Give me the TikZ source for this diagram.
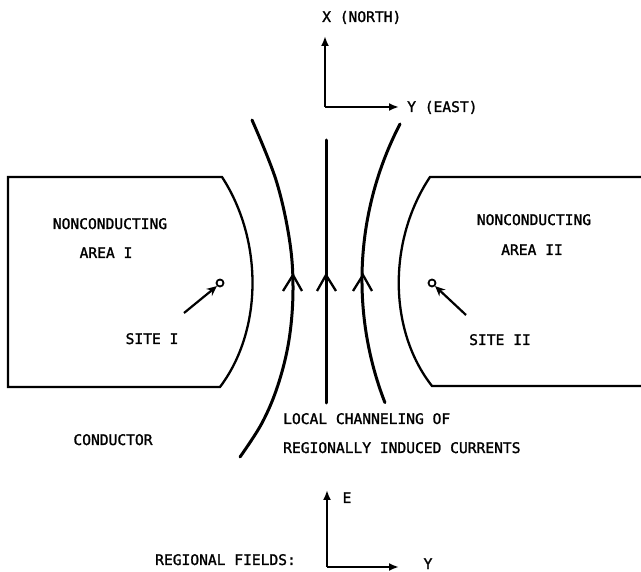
\documentclass[tikz,border=0pt]{standalone}
\usepackage{fontspec}
\newfontfamily\lbl{DejaVu Sans Mono}[FakeBold=1.5]
\usetikzlibrary{arrows.meta}
\tikzset{
  lab/.style={font=\lbl\fontsize{14.6}{16}\selectfont, inner sep=0pt, anchor=base},
  labw/.style={lab, anchor=base west},
  boxline/.style={line width=2.3pt, line join=miter},
  flow/.style={line width=3pt, line cap=round},
  chev/.style={line width=2.3pt, line join=miter},
  axis/.style={line width=2.4pt, -{Latex[length=10pt,width=8pt]}},
  sitearrow/.style={line width=2.2pt, -{Stealth[length=10pt,width=9pt]}},
  sitemark/.style={draw, circle, line width=1.8pt, minimum size=7pt, inner sep=0pt}
}
\begin{document}
\begin{tikzpicture}[x=1pt,y=-1pt]
\useasboundingbox (0,0) rectangle (641,572);
% top axis
\coordinate (o1) at (325,107);
\coordinate (n1) at (325,36);
\coordinate (e1) at (399,107);
\draw[axis] (o1) -- (n1);
\draw[axis] (o1) -- (e1);
\node[labw] (xn) at (322,22) {X (NORTH)};
\node[labw] (ye) at (407,112) {Y (EAST)};
% left nonconducting area
\draw[boxline] (222,177) -- (8,177) -- (8,387) -- (220,387)
  .. controls (263,330) and (263,240) .. cycle;
% right nonconducting area
\draw[boxline] (641,177) -- (430,177)
  .. controls (388,240) and (388,330) .. (432,386) -- (641,386);
% current lines
\draw[flow] plot[smooth, tension=0.6] coordinates {(252,120) (276,180) (289.5,240) (293,290) (289,340) (278,385) (262,423) (240,457)};
\draw[flow] (326,140) -- (326,403);
\draw[flow] (400,124) arc[start angle=207.4, end angle=158.8, radius=339];
% chevrons
\draw[chev] (283,291) -- (293,275) -- (302,291);
\draw[chev] (317,291) -- (326,275) -- (336,291);
\draw[chev] (353,291) -- (363,275) -- (372,291);
% labels left
\node[lab] (nc1) at (110,229) {NONCONDUCTING};
\node[lab] (ar1) at (106,258) {AREA I};
\node[sitemark] (s1) at (220,283) {};
\coordinate (s1t) at (184,313);
\draw[sitearrow] (s1t) -- (s1.south west);
\node[lab] (st1) at (152,344) {SITE I};
% labels right
\node[lab] (nc2) at (534,225) {NONCONDUCTING};
\node[lab] (ar2) at (532,255) {AREA II};
\node[sitemark] (s2) at (432,283) {};
\coordinate (s2t) at (466,315);
\draw[sitearrow] (s2t) -- (s2.south east);
\node[lab] (st2) at (500,345) {SITE II};
% bottom texts
\node[lab] (cond) at (113,445) {CONDUCTOR};
\node[labw] (loc) at (283,424) {LOCAL CHANNELING OF};
\node[labw] (reg) at (283,453) {REGIONALLY INDUCED CURRENTS};
% regional fields axis
\coordinate (o2) at (327,567);
\coordinate (n2) at (327,490);
\coordinate (e2) at (399,567);
\draw[axis] (o2) -- (n2);
\draw[axis] (o2) -- (e2);
\node[lab] (ee) at (347,503) {E};
\node[lab] (yy) at (428,569) {Y};
\node[labw] (rf) at (155,565) {REGIONAL FIELDS:};
\end{tikzpicture}
\end{document}
